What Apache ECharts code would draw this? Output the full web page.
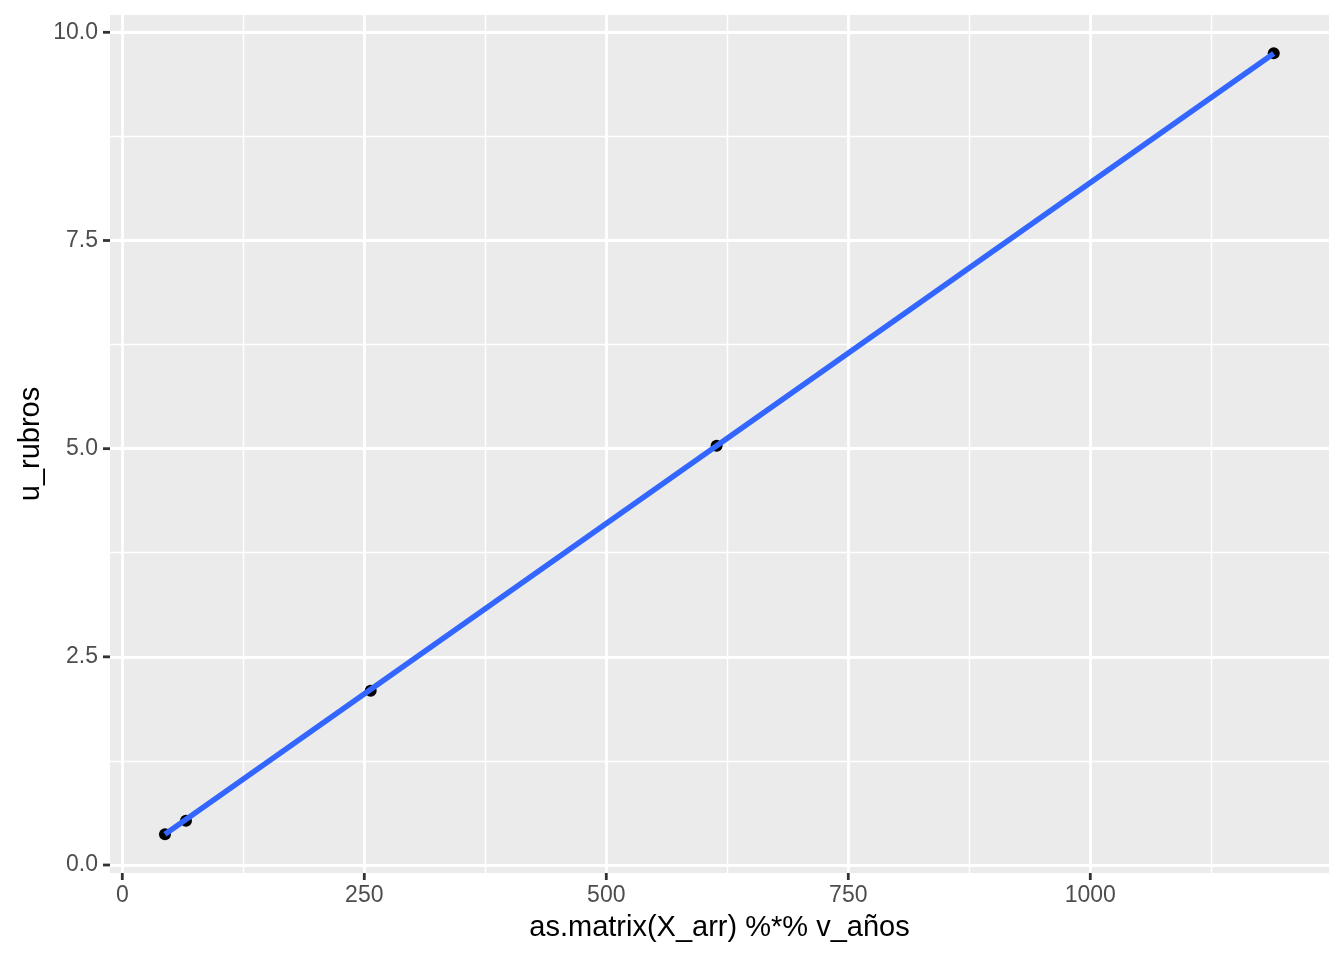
<!DOCTYPE html>
<html>
<head>
<meta charset="utf-8">
<script src="https://cdn.jsdelivr.net/npm/echarts@6/dist/echarts.min.js"></script>
<style>html,body{margin:0;padding:0;background:#fff}#c{width:1344px;height:960px}</style>
</head>
<body>
<div id="c"></div>
<script>
// data
const pointsX = [44.1, 65.8, 256.6, 614.0, 1189.5];
const pointsY = [0.369, 0.532, 2.093, 5.035, 9.748];
// fitted smooth line endpoints (geom_smooth, method lm)
const fitX = [44.1, 1189.5];
const fitY = [0.37, 9.745];
// ticks
const xMajor = [0, 250, 500, 750, 1000];
const xMinor = [125, 375, 625, 875, 1125];
const yMajor = [0, 2.5, 5, 7.5, 10];
const yMinor = [1.25, 3.75, 6.25, 8.75];

const xTitle = 'as.matrix(X_arr) %*% v_años';
const yTitle = 'u_rubros';

const FONT = '"Liberation Sans", Arial, sans-serif';
const X_MIN = -12.7, X_MAX = 1246.6, Y_MIN = -0.096, Y_MAX = 10.208;
const chart = echarts.init(document.getElementById('c'), null, {renderer: 'canvas'});

const gridMark = (vals, axis, w) => vals.map(v => ({[axis]: v, lineStyle: {color: '#FFFFFF', width: w, type: 'solid'}}));

// tick marks drawn outside the panel through the axis scales
const tickStyle = {stroke: '#333333', lineWidth: 2.8};
const xTickSeries = {
  type: 'custom', clip: false, silent: true, z: 12,
  data: xMajor.map(v => [v, Y_MIN]),
  renderItem: (params, api) => {
    const p = api.coord([api.value(0), api.value(1)]);
    return {type: 'line', shape: {x1: p[0], y1: p[1], x2: p[0], y2: p[1] + 7}, style: tickStyle};
  }
};
const yTickSeries = {
  type: 'custom', clip: false, silent: true, z: 12,
  data: yMajor.map(v => [X_MIN, v]),
  renderItem: (params, api) => {
    const p = api.coord([api.value(0), api.value(1)]);
    return {type: 'line', shape: {x1: p[0] - 7, y1: p[1], x2: p[0], y2: p[1]}, style: tickStyle};
  }
};

chart.setOption({
  animation: false,
  backgroundColor: '#FFFFFF',
  grid: {left: 110, right: 15, top: 15, bottom: 87, show: true, backgroundColor: '#EBEBEB', borderWidth: 0},
  xAxis: {
    type: 'value', min: X_MIN, max: X_MAX,
    splitLine: {show: false},
    axisLine: {show: false},
    axisTick: {show: false},
    axisLabel: {customValues: xMajor, color: '#4D4D4D', fontSize: 23, fontFamily: FONT, margin: 11,
      formatter: v => String(v)}
  },
  yAxis: {
    type: 'value', min: Y_MIN, max: Y_MAX,
    splitLine: {show: false},
    axisLine: {show: false},
    axisTick: {show: false},
    axisLabel: {customValues: yMajor, color: '#4D4D4D', fontSize: 23, fontFamily: FONT, margin: 12,
      formatter: v => v.toFixed(1)}
  },
  graphic: [
    {type: 'text', style: {text: xTitle, font: '29px ' + FONT, fill: '#000', textAlign: 'center', textVerticalAlign: 'middle', x: 719.5, y: 928}},
    {type: 'text', x: 31, y: 444, rotation: Math.PI / 2, style: {text: yTitle, font: '29px ' + FONT, fill: '#000', textAlign: 'center', textVerticalAlign: 'middle'}}
  ],
  series: [
    {
      type: 'scatter', data: [], z: 1, silent: true,
      markLine: {
        silent: true, z: 1, symbol: ['none', 'none'], label: {show: false}, animation: false,
        data: [].concat(
          gridMark(xMinor, 'xAxis', 1.4),
          gridMark(yMinor, 'yAxis', 1.4),
          gridMark(xMajor, 'xAxis', 2.8),
          gridMark(yMajor, 'yAxis', 2.8)
        )
      }
    },
    {
      type: 'scatter', z: 10,
      data: pointsX.map((x, i) => [x, pointsY[i]]),
      symbol: 'circle', symbolSize: 12,
      itemStyle: {color: '#000000', opacity: 1}
    },
    {
      type: 'line', z: 11,
      data: fitX.map((x, i) => [x, fitY[i]]),
      symbol: 'none', lineStyle: {color: '#3366FF', width: 5.5}
    },
    xTickSeries,
    yTickSeries
  ]
});
</script>
</body>
</html>
